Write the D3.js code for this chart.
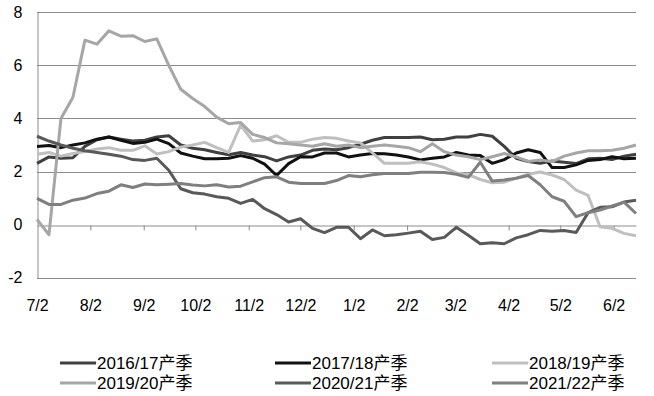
<!DOCTYPE html>
<html>
<head>
<meta charset="utf-8">
<script src="https://cdn.jsdelivr.net/npm/d3@7"></script>
<style>
  body { margin: 0; background: #fff; }
  svg text { font-family: "Liberation Sans", "Noto Sans CJK SC", sans-serif; fill: #000; }
</style>
</head>
<body>
<div id="chart"></div>
<script>
// season labels and colours
var seasons = ["2016/17产季", "2017/18产季", "2018/19产季", "2019/20产季", "2020/21产季", "2021/22产季"];
var colors = ["#404040", "#111111", "#bfbfbf", "#a6a6a6", "#595959", "#7f7f7f"];

// tick labels on the x axis (month/day)
var tickLabels = ["7/2", "8/2", "9/2", "10/2", "11/2", "12/2", "1/2", "2/2", "3/2", "4/2", "5/2", "6/2"];
var yTicks = [-2, 0, 2, 4, 6, 8];

// values, roughly weekly from 7/2 to mid June
var s1617 = [2.31, 2.55, 2.5, 2.52, 2.95, 3.2, 3.3, 3.22, 3.15, 3.18, 3.3, 3.35, 3.0, 2.88, 2.82, 2.72, 2.63,
  2.72, 2.62, 2.56, 2.4, 2.55, 2.62, 2.8, 2.85, 2.82, 2.9, 3.03, 3.18, 3.28, 3.28, 3.28, 3.3, 3.2, 3.22,
  3.3, 3.3, 3.4, 3.33, 2.95, 2.5, 2.38, 2.31, 2.4, 2.35, 2.3, 2.48, 2.5, 2.45, 2.58, 2.65];
var s1718 = [2.94, 2.98, 2.9, 3.0, 3.08, 3.22, 3.3, 3.18, 3.06, 3.1, 3.22, 3.05, 2.7, 2.58, 2.48, 2.48, 2.5,
  2.6, 2.5, 2.28, 1.85, 2.3, 2.56, 2.55, 2.7, 2.7, 2.55, 2.62, 2.68, 2.67, 2.62, 2.55, 2.44, 2.5, 2.55,
  2.72, 2.62, 2.6, 2.31, 2.45, 2.7, 2.82, 2.72, 2.15, 2.15, 2.25, 2.42, 2.45, 2.56, 2.48, 2.5];
var s1819 = [2.65, 2.72, 2.58, 2.68, 2.75, 2.85, 2.9, 2.8, 2.8, 2.97, 2.66, 2.75, 2.92, 3.0, 3.1, 2.9, 2.72,
  3.75, 3.15, 3.2, 3.35, 3.1, 3.1, 3.22, 3.28, 3.25, 3.15, 3.08, 2.7, 2.31, 2.31, 2.31, 2.37, 2.28, 2.15,
  1.95, 1.88, 1.7, 1.58, 1.6, 1.75, 1.9, 1.98, 1.87, 1.7, 1.3, 1.1, -0.08, -0.14, -0.33, -0.42];
var s1920 = [0.2, -0.38, 4.0, 4.8, 6.95, 6.8, 7.3, 7.1, 7.12, 6.9, 7.0, 6.0, 5.1, 4.75, 4.45, 4.05, 3.8,
  3.85, 3.4, 3.28, 3.08, 3.05, 3.0, 2.95, 3.05, 2.95, 3.0, 2.9, 2.95, 3.0, 2.95, 2.9, 2.75, 3.05, 2.75,
  2.62, 2.56, 2.45, 2.56, 2.68, 2.55, 2.38, 2.44, 2.37, 2.58, 2.7, 2.78, 2.78, 2.8, 2.88, 3.0];
var s2021 = [3.33, 3.15, 3.0, 2.88, 2.78, 2.72, 2.65, 2.58, 2.45, 2.42, 2.5, 2.05, 1.35, 1.2, 1.15, 1.05, 0.99,
  0.8, 0.95, 0.6, 0.38, 0.1, 0.22, -0.14, -0.3, -0.1, -0.1, -0.53, -0.2, -0.42, -0.38, -0.32, -0.25, -0.56, -0.48,
  -0.1, -0.4, -0.72, -0.68, -0.72, -0.5, -0.38, -0.22, -0.25, -0.22, -0.3, 0.45, 0.65, 0.67, 0.85, 0.92];
var s2122 = [0.99, 0.76, 0.76, 0.92, 1.0, 1.17, 1.26, 1.5, 1.4, 1.53, 1.5, 1.52, 1.55, 1.49, 1.46, 1.5, 1.42,
  1.45, 1.61, 1.77, 1.8, 1.6, 1.55, 1.55, 1.55, 1.66, 1.85, 1.8, 1.88, 1.93, 1.93, 1.93, 1.97, 1.97, 1.96,
  1.9, 1.78, 2.35, 1.64, 1.68, 1.75, 1.85, 1.5, 1.05, 0.88, 0.3, 0.45, 0.55, 0.7, 0.85, 0.42];

var series = [s1617, s1718, s1819, s1920, s2021, s2122];

var width = 654, height = 396;
var start = new Date(2021, 6, 2), end = new Date(2022, 5, 15);
var nPts = s1617.length;
var dates = d3.range(nPts).map(function(i) {
  return new Date(start.getTime() + (end - start) * i / (nPts - 1));
});
var tickDates = tickLabels.map(function(t, i) { return new Date(2021, 6 + i, 2); });

var svg = d3.select("#chart").append("svg")
    .attr("width", width)
    .attr("height", height);

var x = d3.scaleTime().domain([start, end]).range([37, 636]);
var y = d3.scaleLinear().domain([-2, 8]).range([277.7, 12.3]);

// horizontal gridlines
svg.append("g")
  .selectAll("line")
  .data(yTicks.filter(function(d) { return d !== 0; }))
  .enter().append("line")
    .attr("x1", 37).attr("x2", 636)
    .attr("y1", function(d) { return Math.round(y(d)) + 0.5; })
    .attr("y2", function(d) { return Math.round(y(d)) + 0.5; })
    .attr("stroke", "#8c8c8c")
    .attr("stroke-width", 1);

// y axis
var yAxis = svg.append("g")
    .attr("transform", "translate(37.5,0)")
    .call(d3.axisLeft(y).tickValues(yTicks).tickSize(0).tickPadding(15));
yAxis.select(".domain").attr("stroke", "#8c8c8c");
yAxis.selectAll("text").style("font-size", "16px").text(function(d) { return d < 0 ? "-" + Math.abs(d) : d; });

// zero line with month ticks
var zeroAxis = svg.append("g")
    .attr("transform", "translate(0," + (Math.round(y(0)) + 0.5) + ")")
    .call(d3.axisBottom(x).tickValues(tickDates.slice(1)).tickSizeInner(5).tickSizeOuter(0).tickFormat(""));
zeroAxis.select(".domain").attr("stroke", "#8c8c8c");
zeroAxis.selectAll(".tick line").attr("stroke", "#8c8c8c");

// month labels at the bottom
var labelAxis = svg.append("g")
    .attr("transform", "translate(0,300)")
    .call(d3.axisBottom(x).tickValues(tickDates).tickSize(0).tickPadding(0)
      .tickFormat(function(d, i) { return tickLabels[i]; }));
labelAxis.select(".domain").remove();
labelAxis.selectAll("text").style("font-size", "16px");

// lines
var line = d3.line()
    .x(function(d, i) { return x(dates[i]); })
    .y(function(d) { return y(d); });

svg.append("g")
  .selectAll("path")
  .data(series)
  .enter().append("path")
    .attr("fill", "none")
    .attr("stroke", function(d, i) { return colors[i]; })
    .attr("stroke-width", 3)
    .attr("stroke-linejoin", "round")
    .attr("d", line);

// legend, 3 columns x 2 rows
var legX = [60, 275, 492], legY = [363, 383];
var leg = svg.append("g")
  .selectAll("g")
  .data(seasons)
  .enter().append("g")
    .attr("transform", function(d, i) { return "translate(" + legX[i % 3] + "," + legY[Math.floor(i / 3)] + ")"; });

leg.append("line")
    .attr("x1", 0).attr("x2", 36)
    .attr("stroke", function(d, i) { return colors[i]; })
    .attr("stroke-width", 3);

leg.append("text")
    .attr("x", 37)
    .attr("dy", "0.36em")
    .style("font-size", "17px")
    .text(function(d) { return d; });
</script>
</body>
</html>
